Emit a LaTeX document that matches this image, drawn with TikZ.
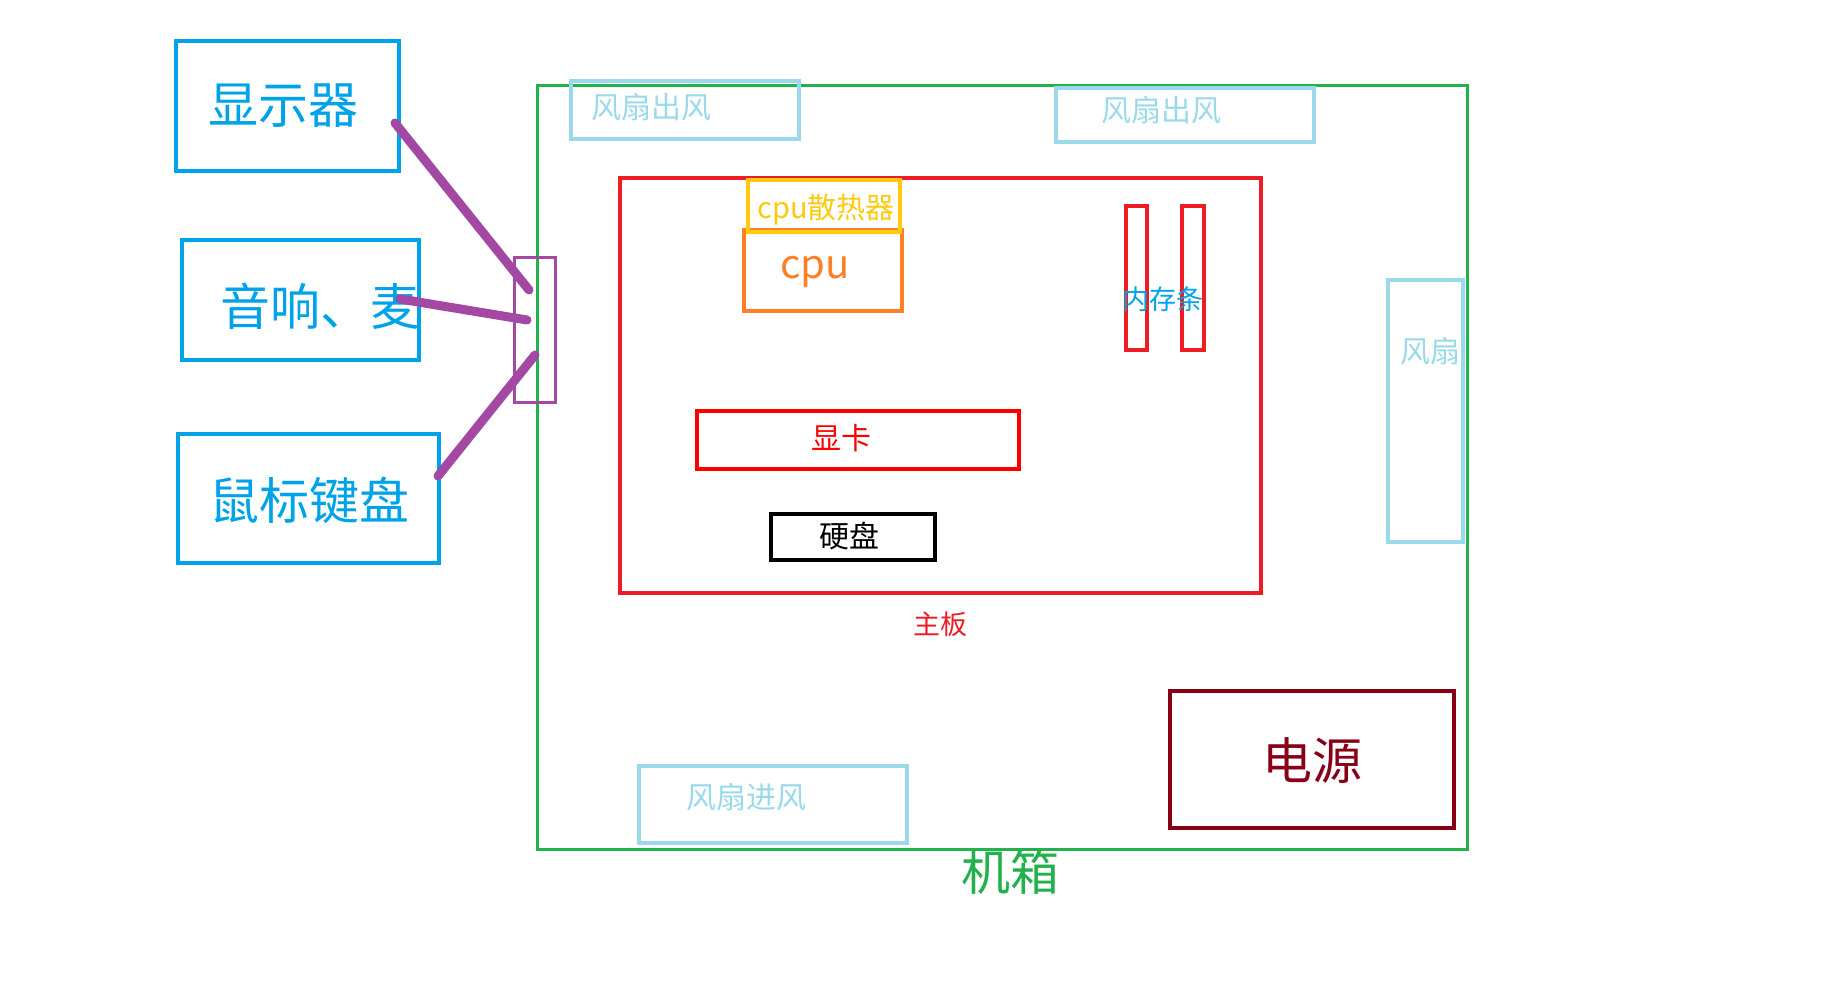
\documentclass[tikz,border=0pt]{standalone}
\usepackage{fontspec}
\setmainfont{Noto Sans CJK SC}
\definecolor{cblue}{HTML}{00A2E8}
\definecolor{cgreen}{HTML}{22B14C}
\definecolor{cfan}{HTML}{99D9EA}
\definecolor{cred}{HTML}{ED1C24}
\definecolor{cgpu}{HTML}{FF0000}
\definecolor{cyellow}{HTML}{FFC90E}
\definecolor{corange}{HTML}{FF7F27}
\definecolor{cpurple}{HTML}{A349A4}
\definecolor{cdark}{HTML}{880015}
\tikzset{
  box/.style={draw=#1, line width=3.8pt, inner sep=0pt, rectangle},
  wire/.style={draw=cpurple, line width=9pt, line cap=round},
  lbl/.style={inner sep=0pt, text=#1},
}
\begin{document}
\begin{tikzpicture}[x=1pt,y=-1pt]
\useasboundingbox (0,0) rectangle (1830,993);
% left peripherals
\node[box=cblue, minimum width=223pt, minimum height=130pt] (mon) at (287.5,106) {};
\node[box=cblue, minimum width=237pt, minimum height=120pt] (aud) at (300.5,300) {};
\node[box=cblue, minimum width=261pt, minimum height=129pt] (kbd) at (308.5,498.5) {};
\node[lbl=cblue, font=\fontsize{50pt}{54pt}\selectfont] (tmon) at (283,106) {显示器};
\node[lbl=cblue, font=\fontsize{50pt}{54pt}\selectfont] (taud) at (320,306) {音响、麦};
\node[lbl=cblue, font=\fontsize{50pt}{54pt}\selectfont] (tkbd) at (309,500) {鼠标键盘};
% case
\node[box=cgreen, minimum width=930pt, minimum height=764pt] (case) at (1002.5,467.5) {};
\node[lbl=cgreen, font=\fontsize{49pt}{53pt}\selectfont] (tcase) at (1010,872) {机箱};
% fans
\node[box=cfan, minimum width=228pt, minimum height=58pt] (fan1) at (685,110) {};
\node[lbl=cfan, font=\fontsize{30pt}{34pt}\selectfont] (tfan1) at (651,107) {风扇出风};
\node[box=cfan, minimum width=258pt, minimum height=54pt] (fan2) at (1185,115) {};
\node[lbl=cfan, font=\fontsize{30pt}{34pt}\selectfont] (tfan2) at (1161,110) {风扇出风};
\node[box=cfan, minimum width=75pt, minimum height=262pt] (sfan) at (1425.5,411) {};
\node[lbl=cfan, font=\fontsize{30pt}{34pt}\selectfont] (tsfan) at (1430,351) {风扇};
\node[box=cfan, minimum width=268pt, minimum height=77pt] (fanin) at (773,804.5) {};
\node[lbl=cfan, font=\fontsize{30pt}{34pt}\selectfont] (tfanin) at (746,797) {风扇进风};
% motherboard
\node[box=cred, minimum width=641pt, minimum height=415pt] (mb) at (940.5,385.5) {};
\node[lbl=cred, font=\fontsize{27pt}{31pt}\selectfont] (tmb) at (940,624) {主板};
\node[box=corange, minimum width=158pt, minimum height=81pt] (cpu) at (823,270.5) {};
\node[box=cyellow, minimum width=152pt, minimum height=52pt] (sink) at (824,206) {};
\node[lbl=cyellow, font=\fontsize{29pt}{33pt}\selectfont, anchor=base] (tsink) at (826,218) {cpu散热器};
\node[lbl=corange, font=\fontsize{40pt}{44pt}\selectfont, anchor=base] (tcpu) at (815,278) {cpu};
\node[box=cred, minimum width=21pt, minimum height=144pt] (ram1) at (1136.5,278) {};
\node[box=cred, minimum width=22pt, minimum height=144pt] (ram2) at (1193,278) {};
\node[lbl=cblue, font=\fontsize{27pt}{31pt}\selectfont] (tram) at (1163,299) {内存条};
\node[box=cgpu, minimum width=322pt, minimum height=58pt] (gpu) at (858,440) {};
\node[lbl=cgpu, font=\fontsize{30pt}{34pt}\selectfont] (tgpu) at (841,438) {显卡};
\node[box=black, minimum width=164pt, minimum height=46pt] (hdd) at (853,537) {};
\node[lbl=black, font=\fontsize{30pt}{34pt}\selectfont] (thdd) at (849,536) {硬盘};
% power
\node[box=cdark, minimum width=284pt, minimum height=137pt] (psu) at (1312,759.5) {};
\node[lbl=cdark, font=\fontsize{50pt}{54pt}\selectfont] (tpsu) at (1312,761) {电源};
% port block and cables
\node[box=cpurple, line width=3pt, minimum width=41pt, minimum height=145pt] (port) at (535,330) {};
\coordinate (m1) at (395,123);
\coordinate (p1) at (529,290);
\coordinate (m2) at (400,299);
\coordinate (p2) at (527,320);
\coordinate (m3) at (438,476);
\coordinate (p3) at (535,355);
\draw[wire] (m1) -- (p1);
\draw[wire] (m2) -- (p2);
\draw[wire] (m3) -- (p3);
\end{tikzpicture}
\end{document}
